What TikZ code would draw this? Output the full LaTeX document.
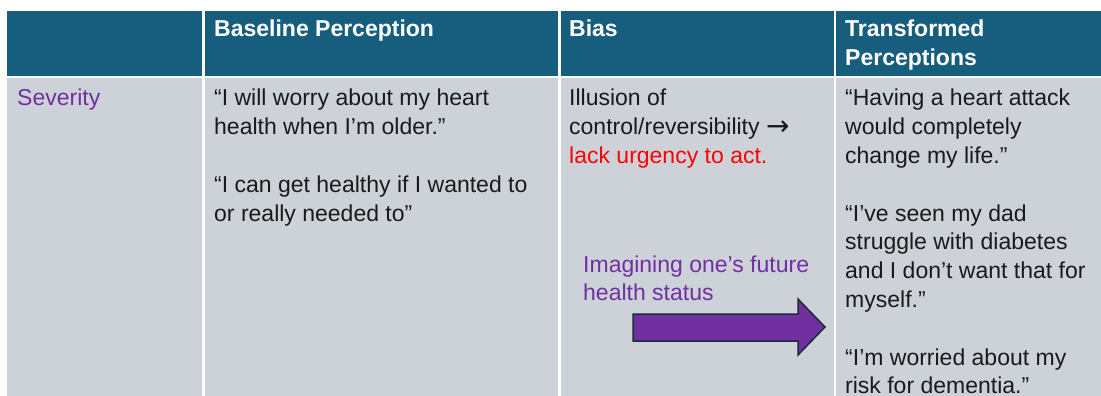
\documentclass[tikz,border=0pt]{standalone}
\usepackage{fontspec}
\setmainfont{Liberation Sans}
\newfontfamily\symfont{DejaVu Sans}
\definecolor{hdr}{HTML}{175E7E}
\definecolor{bodyg}{HTML}{CDD2D9}
\definecolor{txt}{HTML}{1A1A1A}
\definecolor{purp}{HTML}{7030A0}
\definecolor{arrline}{HTML}{1C2B3A}
\newcommand{\cellfont}{\fontsize{23}{28.8}\selectfont}
\newcommand{\mylines}[1]{\begin{tabular}[t]{@{}l@{}}#1\end{tabular}}
\begin{document}
\begin{tikzpicture}[x=1pt,y=-1pt,
  cell/.style={anchor=base west,inner sep=0pt,font=\cellfont,text=txt},
  head/.style={anchor=base west,inner sep=0pt,font=\cellfont\bfseries,text=white},
  grid/.style={white,line width=2.5pt}]
\useasboundingbox (0,0) rectangle (1101,396);
\fill[white] (0,0) rectangle (1101,396);
\fill[hdr] (7,11) rectangle (1101,77);
\fill[bodyg] (7,77) rectangle (1101,396);
\draw[grid] (7,77) -- (1101,77);
\foreach \xx in {203.5,559.5,835} \draw[grid] (\xx,11) -- (\xx,396);
% header
\node[head] (h2) at (214,37) {Baseline Perception};
\node[head] (h3) at (569,37) {Bias};
\node[head] (h4) at (845,37) {\mylines{Transformed\\Perceptions}};
% body
\node[cell,text=purp] (sev) at (17,106) {Severity};
\node[cell] (base) at (214,106) {\mylines{“I will worry about my heart\\health when I’m older.”\\ \\“I can get healthy if I wanted to\\or really needed to”}};
\node[cell] (bias) at (569,106) {\mylines{Illusion of\\control/reversibility {\symfont\fontsize{28}{28.8}\selectfont\raisebox{-1pt}{→}}\\\textcolor{red}{lack urgency to act.}}};
\node[cell] (trans) at (845,106) {\mylines{“Having a heart attack\\would completely\\change my life.”\\ \\“I’ve seen my dad\\struggle with diabetes\\and I don’t want that for\\myself.”\\ \\“I’m worried about my\\risk for dementia.”}};
\node[cell,text=purp] (imag) at (583,272) {\mylines{Imagining one’s future\\health status}};
% arrow
\draw[arrline,fill=purp,line width=1.5pt,line join=miter]
  (633,314) -- (798,314) -- (798,299) -- (825,327) -- (798,355) -- (798,341) -- (633,341) -- cycle;
\end{tikzpicture}
\end{document}
